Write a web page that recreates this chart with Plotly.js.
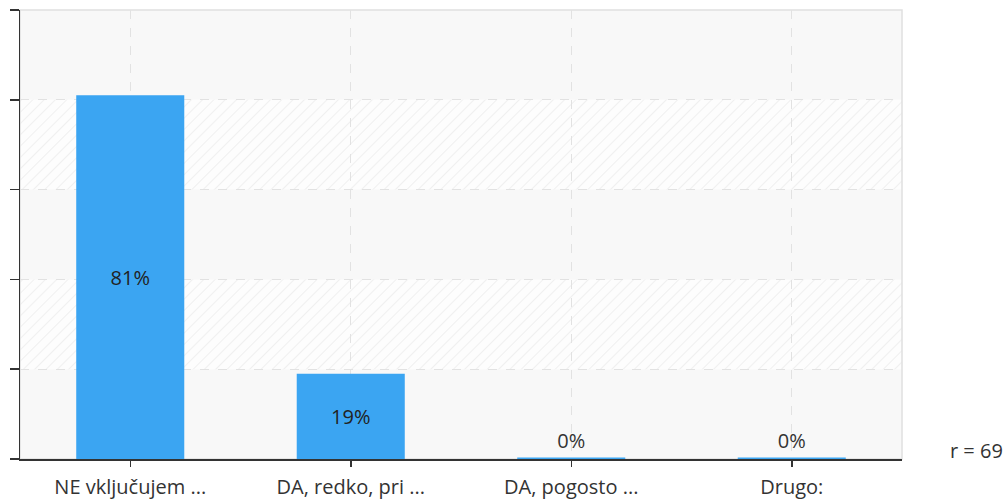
<!DOCTYPE html>
<html>
<head>
<meta charset="utf-8">
<script src="https://cdn.plot.ly/plotly-3.0.1.min.js"></script>
<style>html,body{margin:0;padding:0;background:#fff;}#chart{width:1008px;height:501px;}</style>
</head>
<body>
<div id="chart"></div>
<script>
const categories = ["NE vključujem ...", "DA, redko, pri ...", "DA, pogosto ...", "Drugo:"];
const percentValues = [81, 19, 0, 0];
const respondents = 69;

const displayHeights = percentValues.map(v => v > 0 ? v : 0.35);
const labels = percentValues.map(v => v + "%");
const positions = percentValues.map(v => v > 0 ? "inside" : "outside");

const FONT = "'Open Sans', 'Noto Sans', sans-serif";
const FS = 20;

const hatchSvg = '<svg xmlns="http://www.w3.org/2000/svg" width="882" height="449">' +
  '<defs><pattern id="p" width="8" height="8" patternUnits="userSpaceOnUse" patternTransform="rotate(45)">' +
  '<line x1="0" y1="0" x2="0" y2="8" stroke="#e8e8e8" stroke-width="2"/></pattern></defs>' +
  '<rect width="882" height="449" fill="url(#p)"/></svg>';
const hatchUri = "data:image/svg+xml;base64," + btoa(hatchSvg);

const trace = {
  type: "bar",
  x: categories,
  y: displayHeights,
  text: labels,
  textposition: positions,
  insidetextanchor: "middle",
  textfont: {family: FONT, size: FS, color: "#222"},
  outsidetextfont: {family: FONT, size: FS, color: "#333"},
  insidetextfont: {family: FONT, size: FS, color: "#222"},
  marker: {color: "#3ba5f2", line: {width: 0}},
  cliponaxis: false,
  hoverinfo: "none"
};

const bandShapes = [[80,100],[40,60],[0,20]].map(b => ({
  type: "rect", xref: "paper", yref: "y", x0: 0, x1: 1, y0: b[0], y1: b[1],
  fillcolor: "#f8f8f8", line: {width: 0}, layer: "below"
}));

const layout = {
  width: 1008, height: 501,
  margin: {l: 20, r: 106, t: 10, b: 42},
  paper_bgcolor: "#ffffff",
  plot_bgcolor: "#fdfdfd",
  bargap: 0.51,
  showlegend: false,
  font: {family: FONT, size: FS, color: "#333"},
  xaxis: {
    type: "category",
    showgrid: true, gridcolor: "#e2e2e2", griddash: "dash", gridwidth: 1,
    showline: true, linecolor: "#333", linewidth: 1.5,
    ticks: "outside", ticklen: 6, tickcolor: "#333", tickwidth: 1.5,
    ticklabelstandoff: 3,
    tickfont: {family: FONT, size: FS, color: "#333"},
    zeroline: false, fixedrange: true
  },
  yaxis: {
    range: [0, 100], dtick: 20,
    showgrid: true, gridcolor: "#e2e2e2", griddash: "dash", gridwidth: 1,
    showline: true, linecolor: "#333", linewidth: 1.5,
    ticks: "outside", ticklen: 9, tickcolor: "#333", tickwidth: 1.5,
    showticklabels: false, zeroline: false, fixedrange: true
  },
  shapes: bandShapes.concat([{
    type: "rect", xref: "paper", yref: "paper", x0: 0, x1: 1, y0: 0, y1: 1,
    line: {color: "#e0e0e0", width: 1.5}, fillcolor: "rgba(0,0,0,0)", layer: "below"
  }]),
  images: [{
    source: hatchUri, xref: "paper", yref: "paper", x: 0, y: 1, sizex: 1, sizey: 1,
    sizing: "stretch", xanchor: "left", yanchor: "top", layer: "below", opacity: 0.6
  }],
  annotations: [{
    xref: "paper", yref: "paper", x: 1.052, y: 0.02, xanchor: "left", yanchor: "middle",
    text: "r = " + respondents, showarrow: false,
    font: {family: FONT, size: FS, color: "#333"}
  }]
};

Plotly.newPlot("chart", [trace], layout, {displayModeBar: false, staticPlot: true});
</script>
</body>
</html>
